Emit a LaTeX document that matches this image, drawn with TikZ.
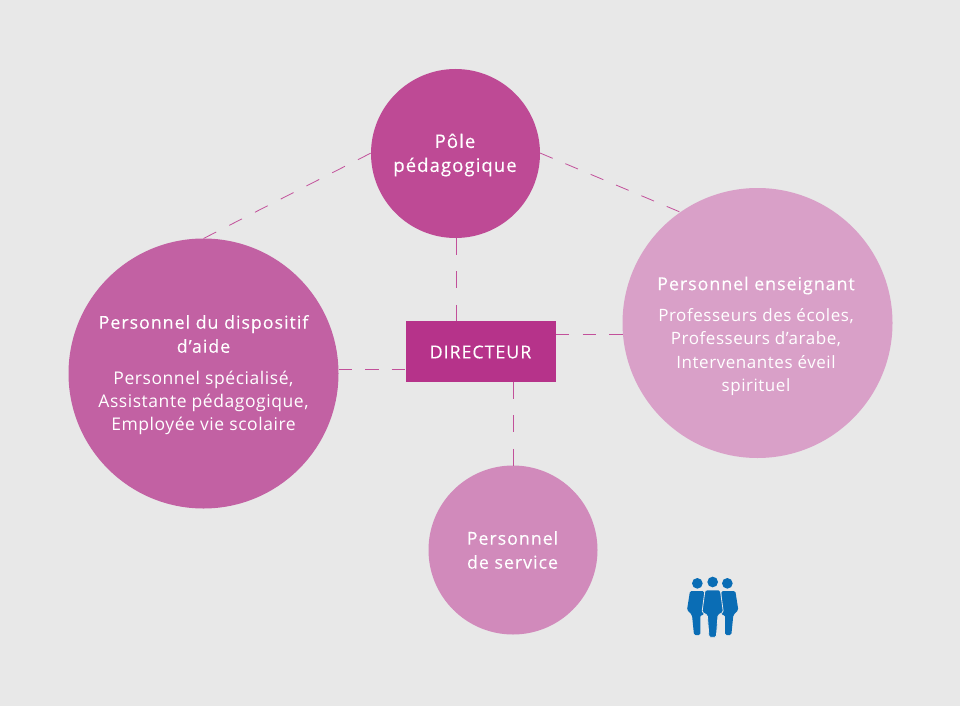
\documentclass[tikz,border=0pt]{standalone}
\usepackage{fontspec}
\setmainfont{Open Sans}
\newfontfamily\headfont[LetterSpace=5.5,FakeBold=0.25]{Open Sans}
\newfontfamily\subfont[LetterSpace=3.2]{Open Sans}
\definecolor{bgc}{HTML}{E8E8E8}
\definecolor{polec}{HTML}{BE4A95}
\definecolor{leftc}{HTML}{C261A3}
\definecolor{rightc}{HTML}{D9A0C8}
\definecolor{botc}{HTML}{D18ABB}
\definecolor{dirc}{HTML}{B6338A}
\definecolor{linec}{HTML}{C2509A}
\definecolor{iconc}{HTML}{0A6DB5}
\tikzset{
  disc/.style={circle,inner sep=0pt,outer sep=0pt,minimum size=#1},
  lbl/.style={text=white,align=center,inner sep=0pt,font=\headfont\fontsize{17.8}{24}\selectfont},
  sub/.style={text=white,align=center,inner sep=0pt,font=\subfont\fontsize{17.5}{23.2}\selectfont},
  link/.style={draw=linec,line width=0.8pt},
  dashA/.style={dash pattern=on 16.7pt off 16.7pt},
  dashB/.style={dash pattern=on 13.4pt off 13.2pt},
  dashC/.style={dash pattern=on 14.3pt off 14.6pt},
  dashD/.style={dash pattern=on 13.7pt off 13.8pt},
  body/.style={fill=iconc,rounded corners=1.5pt},
}
\begin{document}
\begin{tikzpicture}[x=1pt,y=-1pt]
\path[fill=bgc,use as bounding box] (0,0) rectangle (960,706);
\node[disc=169pt,fill=polec] (pole) at (455.5,153.5) {};
\node[disc=270pt,fill=leftc] (aide) at (203.5,373.5) {};
\node[disc=270pt,fill=rightc] (ens) at (757.5,323) {};
\node[disc=169pt,fill=botc] (serv) at (513,550) {};
\node[fill=dirc,minimum width=150pt,minimum height=60.5pt,inner sep=0pt,outer sep=0pt] (dir) at (480.5,351.5) {};
\coordinate (pv) at (456,321);
\coordinate (rv) at (513.5,382);
\coordinate (al) at (405,369.5);
\coordinate (ar) at (556,334);
\coordinate (pl) at (371,153);
\coordinate (pr) at (540,153);
\coordinate (er) at (680,212);
\path[link,dashA,draw] (pole.south -| pv) -- (pv);
\path[link,dashA,draw] (rv) -- (serv.north -| rv);
\path[link,dashB,draw] (aide.east |- al) -- (al);
\path[link,dashB,draw] (ar) -- (ens.west |- ar);
\path[link,dashC,draw] (aide.north) -- (pl);
\path[link,dashD,draw] (pr) -- (er);
\node[lbl,font=\headfont\fontsize{18.6}{24}\selectfont] (t1) at (455,155) {Pôle\\pédagogique};
\node[lbl] (t2) at (203.5,334) {Personnel du dispositif\\d’aide};
\node[sub] (t3) at (203.5,403) {Personnel spécialisé,\\Assistante pédagogique,\\Employée vie scolaire};
\node[lbl] (t4) at (756,285.5) {Personnel enseignant};
\node[sub,font=\subfont\fontsize{17}{23.2}\selectfont] (t5) at (756,352) {Professeurs des écoles,\\Professeurs d’arabe,\\Intervenantes éveil\\spirituel};
\node[lbl] (t6) at (512.5,550) {Personnel\\de service};
\node[lbl] (t7) at (480.5,352) {DIRECTEUR};
\begin{scope}[shift={(670,565)},x=0.3333pt,y=-0.3333pt]
 \fill[iconc] (82,55) circle (16);
 \fill[iconc] (128,51) circle (16);
 \fill[iconc] (172,55) circle (16);
 \fill[body] (60,78) -- (102,78) -- (102,150) -- (91,150) -- (91,210) -- (72,210) -- (66,150) -- (51,135) -- cycle;
 \fill[body] (196,78) -- (154,78) -- (154,150) -- (165,150) -- (165,210) -- (184,210) -- (190,150) -- (205,135) -- cycle;
 \fill[body,draw=bgc,line width=0.8pt] (105,75) -- (151,75) -- (160,142) -- (144,150) -- (139,217) -- (117,217) -- (112,150) -- (96,142) -- cycle;
\end{scope}
\end{tikzpicture}
\end{document}
